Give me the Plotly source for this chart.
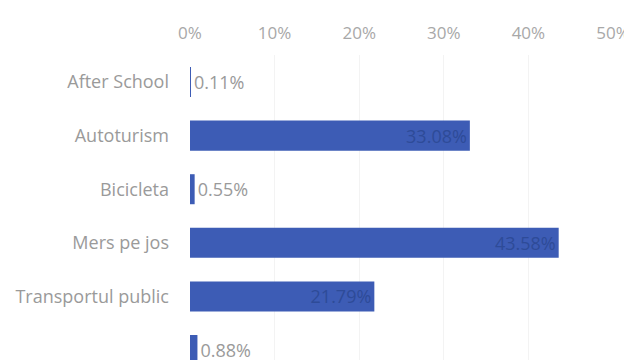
import plotly.graph_objects as go

categories = ["After School", "Autoturism", "Bicicleta", "Mers pe jos", "Transportul public", " "]
values = [0.11, 33.08, 0.55, 43.58, 21.79, 0.88]
labels = ["0.11%", "33.08%", "0.55%", "43.58%", "21.79%", "0.88%"]
tick_vals = [0, 10, 20, 30, 40, 50]
tick_text = ["0%", "10%", "20%", "30%", "40%", "50%"]

positions = ["inside" if v > 5 else "outside" for v in values]
FONT = "Open Sans"

fig = go.Figure(go.Bar(
    y=categories, x=values, orientation="h",
    marker=dict(color="#3d5cb5", line=dict(width=0)),
    text=labels, textposition=positions,
    insidetextanchor="end",
    insidetextfont=dict(color="#2e4b98", size=18, family=FONT),
    outsidetextfont=dict(color="#9a9a9a", size=18, family=FONT),
    cliponaxis=False,
))

fig.update_layout(
    width=624, height=352,
    margin=dict(l=182, r=19, t=47, b=0, autoexpand=False),
    paper_bgcolor="white", plot_bgcolor="white",
    bargap=0.44,
    showlegend=False,
    font=dict(family=FONT, color="#a0a0a0", size=18),
    uniformtext=dict(minsize=8, mode=False),
)
fig.update_xaxes(
    side="top", range=[0, 50], tickvals=tick_vals, ticktext=tick_text,
    showgrid=True, gridcolor="#f3f3f3", gridwidth=1, zeroline=False,
    showline=False, tickfont=dict(size=17, color="#a8a8a8", family=FONT), ticks="",
    ticklabelstandoff=12, automargin=False,
)
fig.update_yaxes(
    categoryorder="array", categoryarray=categories,
    range=[5.186, -0.504], showgrid=False, zeroline=False, showline=False,
    ticks="", ticklabelstandoff=20, automargin=False,
    tickfont=dict(size=18, color="#9a9a9a", family=FONT),
)

fig.write_html("out.html")
